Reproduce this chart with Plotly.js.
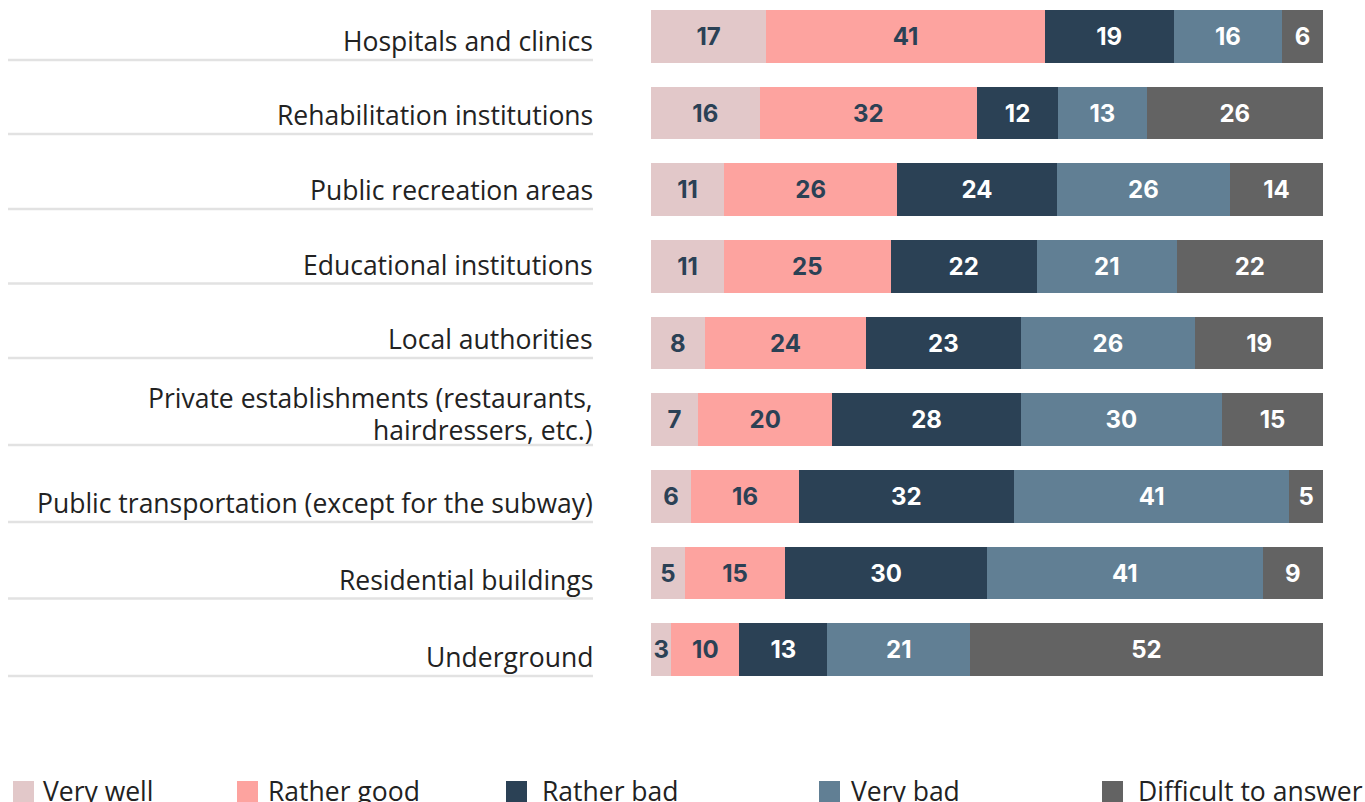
<!DOCTYPE html>
<html>
<head>
<meta charset="utf-8">
<script src="https://cdn.plot.ly/plotly-3.0.1.min.js"></script>
<style>html,body{margin:0;padding:0;background:#fff;}#chart{width:1365px;height:802px;}</style>
</head>
<body>
<div id="chart"></div>
<script>
const categories = [
  "Hospitals and clinics",
  "Rehabilitation institutions",
  "Public recreation areas",
  "Educational institutions",
  "Local authorities",
  "Private establishments (restaurants,<br>hairdressers, etc.)",
  "Public transportation (except for the subway)",
  "Residential buildings",
  "Underground"
];
const seriesNames = ["Very well", "Rather good", "Rather bad", "Very bad", "Difficult to answer"];
const veryWell     = [17, 16, 11, 11, 8, 7, 6, 5, 3];
const ratherGood   = [41, 32, 26, 25, 24, 20, 16, 15, 10];
const ratherBad    = [19, 12, 24, 22, 23, 28, 32, 30, 13];
const veryBad      = [16, 13, 26, 21, 26, 30, 41, 41, 21];
const difficult    = [6, 26, 14, 22, 19, 15, 5, 9, 52];
const seriesValues = [veryWell, ratherGood, ratherBad, veryBad, difficult];
const colors = ["#e2c8c9", "#fda39f", "#2b4155", "#617f94", "#636363"];
const textColors = ["#2b4155", "#2b4155", "#ffffff", "#ffffff", "#ffffff"];

// layout constants (pixels)
const W = 1365, H = 802;
const mL = 651, mR = 42, mT = 0, mB = 112;
const plotW = W - mL - mR, plotH = H - mT - mB;
const px2xp = p => (p - mL) / plotW;
const py2yp = p => 1 - (p - mT) / plotH;
const labelLineY = [60, 134, 209, 283.5, 358, 445, 522, 598.5, 676];
const labelRight = 593, labelLeft = 8;
const lineGap = 32;
const legSquareX = [13, 237, 506, 819, 1102];
const legTextX = [43, 268, 542, 851, 1138];

const idx = categories.map((_, i) => i);
const traces = seriesValues.map((vals, s) => ({
  type: "bar",
  orientation: "h",
  name: seriesNames[s],
  y: idx,
  x: vals,
  text: vals.map(String),
  textposition: "inside",
  insidetextanchor: "middle",
  constraintext: "none",
  textangle: 0,
  textfont: {family: "Inter, 'Open Sans', sans-serif", size: 24, color: textColors[s], weight: 700},
  marker: {color: colors[s], line: {width: 0}},
  hoverinfo: "skip",
  showlegend: false
}));

const labelFont = {family: "'Open Sans', sans-serif", size: 26.5, color: "#222222"};
const shapes = [];
const annotations = [];
categories.forEach((c, i) => {
  const ly = labelLineY[i];
  shapes.push({type: "line", xref: "paper", yref: "paper", x0: px2xp(labelLeft), x1: px2xp(labelRight),
    y0: py2yp(ly), y1: py2yp(ly), line: {color: "#e2e2e2", width: 2.5}});
  const lines = c.split("<br>");
  const n = lines.length;
  lines.forEach((t, k) => {
    const baseline = ly - (n > 1 ? 6 : 10) - (n - 1 - k) * lineGap;
    annotations.push({xref: "paper", yref: "paper", x: px2xp(labelRight), y: py2yp(baseline + 11),
      xanchor: "right", yanchor: "bottom", xshift: 2, text: t, showarrow: false, align: "right",
      font: labelFont});
  });
});
seriesNames.forEach((n, s) => {
  shapes.push({type: "rect", xref: "paper", yref: "paper", x0: px2xp(legSquareX[s]), x1: px2xp(legSquareX[s] + 21),
    y0: py2yp(802), y1: py2yp(781), fillcolor: colors[s], line: {width: 0}});
  annotations.push({xref: "paper", yref: "paper", x: px2xp(legTextX[s] - 2), y: py2yp(791), xanchor: "left",
    yanchor: "middle", text: n, showarrow: false, font: labelFont});
});

const layout = {
  width: W, height: H,
  margin: {l: mL, r: mR, t: mT, b: mB, pad: 0},
  barmode: "stack",
  barnorm: "percent",
  bargap: 0.31,
  paper_bgcolor: "#ffffff",
  plot_bgcolor: "#ffffff",
  showlegend: false,
  xaxis: {range: [0, 100], visible: false, fixedrange: true},
  yaxis: {range: [8.5 + 0.026, -0.5 + 0.026], visible: false, fixedrange: true},
  shapes: shapes,
  annotations: annotations
};
Plotly.newPlot("chart", traces, layout, {displayModeBar: false, staticPlot: true});
</script>
</body>
</html>
